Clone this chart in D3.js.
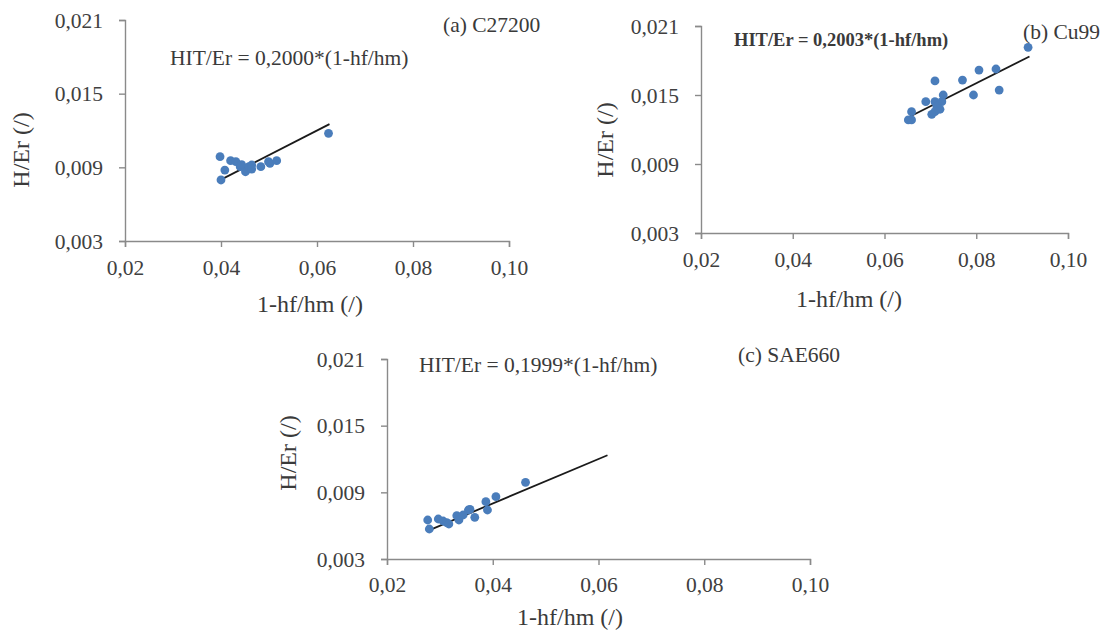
<!DOCTYPE html>
<html>
<head>
<meta charset="utf-8">
<style>
  html, body { margin: 0; padding: 0; background: #fff; }
  svg text { font-family: "Liberation Serif", "Times New Roman", serif; fill: #3a3a3a; }
  .axis path, .axis line { stroke: #8a8a8a; stroke-width: 1.4; }
  .axis text { font-size: 21.5px; fill: #404040; }
</style>
</head>
<body>
<div id="chart"></div>
<script src="https://cdn.jsdelivr.net/npm/d3@7"></script>
<script>
;(function() {
  "use strict";

  // Data
  // ---------------------------------------------------------------------------
  var aX = [0.0398, 0.0400, 0.0408, 0.0420, 0.0431, 0.0440, 0.0443, 0.0451, 0.0458,
            0.0464, 0.0464, 0.0483, 0.0499, 0.0502, 0.0516, 0.0624];
  var aY = [0.00987, 0.00797, 0.00878, 0.00954, 0.00946, 0.00905, 0.00922, 0.00864, 0.00905,
            0.00919, 0.00886, 0.00905, 0.00946, 0.00933, 0.00954, 0.01177];

  var bX = [0.0913, 0.0806, 0.0843, 0.0770, 0.0710, 0.0850, 0.0794, 0.0728, 0.0690,
            0.0710, 0.0725, 0.0714, 0.0721, 0.0710, 0.0703, 0.0659, 0.0652, 0.0659];
  var bY = [0.01915, 0.01717, 0.01726, 0.01630, 0.01622, 0.01543, 0.01500, 0.01500, 0.01442,
            0.01442, 0.01442, 0.01404, 0.01376, 0.01355, 0.01332, 0.01355, 0.01283, 0.01283];

  var cX = [0.0277, 0.0280, 0.0297, 0.0306, 0.0313, 0.0317, 0.0332, 0.0336,
            0.0344, 0.0354, 0.0357, 0.0366, 0.0387, 0.0390, 0.0406, 0.0462];
  var cY = [0.00651, 0.00570, 0.00660, 0.00642, 0.00627, 0.00615, 0.00690, 0.00651,
            0.00696, 0.00741, 0.00747, 0.00675, 0.00816, 0.00741, 0.00861, 0.00990];

  // fitted slopes and the x span each trend line covers
  var slopes = [0.2000, 0.2003, 0.1999];
  var fitRanges = [[0.0399, 0.0626], [0.0648, 0.0916], [0.0277, 0.0617]];

  var xTicks = [0.02, 0.04, 0.06, 0.08, 0.10];
  var yTicks = [0.003, 0.009, 0.015, 0.021];

  var panelLabels = ["(a) C27200", "(b) Cu99", "(c) SAE660"];
  var equations = [
    "HIT/Er = 0,2000*(1-hf/hm)",
    "HIT/Er = 0,2003*(1-hf/hm)",
    "HIT/Er = 0,1999*(1-hf/hm)"
  ];
  var xTitle = "1-hf/hm (/)";
  var yTitle = "H/Er (/)";

  // Layout
  // ---------------------------------------------------------------------------
  var panels = [
    { x: aX, y: aY, left: 125, right: 509, top: 20, bottom: 241, pad: 13,
      label: [443, 32], eq: [170, 65], eqBold: false,
      xt: [310, 312], yt: [29, 150] },
    { x: bX, y: bY, left: 701, right: 1068, top: 26, bottom: 233, pad: 13,
      label: [1023, 39], eq: [734, 46], eqBold: true,
      xt: [849, 307], yt: [613, 140] },
    { x: cX, y: cY, left: 387, right: 810, top: 359, bottom: 559, pad: 12,
      label: [738, 362], eq: [419, 372], eqBold: false,
      xt: [570, 625], yt: [296, 453] }
  ];

  var locale = d3.formatLocale({ decimal: ",", thousands: ".", grouping: [3], currency: ["", ""] });
  var fmtX = locale.format(".2f");
  var fmtY = locale.format(".3f");

  var svg = d3.select("#chart").append("svg")
    .attr("width", 1105)
    .attr("height", 633);

  // Draw each panel
  // ---------------------------------------------------------------------------
  panels.forEach(function(p, i) {
    var x = d3.scaleLinear().domain([0.02, 0.10]).range([p.left, p.right]);
    var y = d3.scaleLinear().domain([0.003, 0.021]).range([p.bottom, p.top]);

    var g = svg.append("g").attr("class", "panel");

    g.append("g")
      .attr("class", "axis")
      .attr("transform", "translate(" + p.left + ",0)")
      .call(d3.axisLeft(y).tickValues(yTicks).tickFormat(fmtY).tickSize(6).tickPadding(16))
      .call(function(s) { s.selectAll("text").attr("dy", "0.34em"); });

    g.append("g")
      .attr("class", "axis")
      .attr("transform", "translate(0," + p.bottom + ")")
      .call(d3.axisBottom(x).tickValues(xTicks).tickFormat(fmtX).tickSize(6).tickPadding(p.pad));

    // trend line
    var fr = fitRanges[i];
    g.append("line")
      .attr("x1", x(fr[0]))
      .attr("y1", y(slopes[i] * fr[0]))
      .attr("x2", x(fr[1]))
      .attr("y2", y(slopes[i] * fr[1]))
      .attr("stroke", "#1a1a1a")
      .attr("stroke-width", 1.8);

    // points
    g.selectAll("circle")
      .data(d3.range(p.x.length))
      .enter().append("circle")
        .attr("cx", function(k) { return x(p.x[k]); })
        .attr("cy", function(k) { return y(p.y[k]); })
        .attr("r", 4.4)
        .attr("fill", "#4a7dbb");

    // texts
    g.append("text")
      .attr("x", p.label[0])
      .attr("y", p.label[1])
      .attr("font-size", 21.5)
      .text(panelLabels[i]);

    g.append("text")
      .attr("x", p.eq[0])
      .attr("y", p.eq[1])
      .attr("font-size", p.eqBold ? 18.5 : 21.5)
      .attr("font-weight", p.eqBold ? "bold" : "normal")
      .text(equations[i]);

    g.append("text")
      .attr("x", p.xt[0])
      .attr("y", p.xt[1])
      .attr("text-anchor", "middle")
      .attr("font-size", 24)
      .text(xTitle);

    g.append("text")
      .attr("transform", "translate(" + p.yt[0] + "," + p.yt[1] + ") rotate(-90)")
      .attr("text-anchor", "middle")
      .attr("font-size", 24)
      .text(yTitle);
  });
})();
</script>
</body>
</html>
